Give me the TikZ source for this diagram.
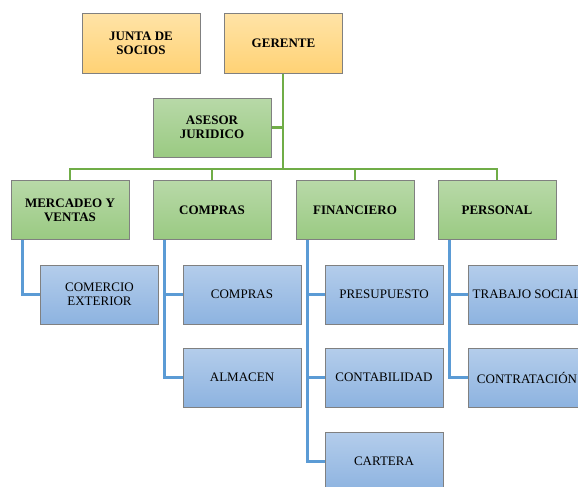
\documentclass[tikz,border=0pt]{standalone}
\usepackage{fontspec}
\setmainfont{Liberation Serif}
\definecolor{gline}{HTML}{70AD47}
\definecolor{bline}{HTML}{5B9BD5}
\definecolor{otop}{HTML}{FFE3A6}
\definecolor{obot}{HTML}{FFD275}
\definecolor{gtop}{HTML}{B8D9A8}
\definecolor{gbot}{HTML}{9ACA82}
\definecolor{btop}{HTML}{B4CDEB}
\definecolor{bbot}{HTML}{8DB3E0}
\definecolor{bord}{HTML}{808080}
\tikzset{
  box/.style={draw=bord, line width=1pt, minimum width=118pt, minimum height=59pt,
    align=center, inner sep=0pt, font=\fontsize{13}{14}\selectfont},
  obox/.style={box, top color=otop, bottom color=obot, font=\fontsize{13}{14}\selectfont\bfseries},
  gbox/.style={box, top color=gtop, bottom color=gbot, font=\fontsize{13}{14}\selectfont\bfseries},
  bbox/.style={box, top color=btop, bottom color=bbot},
  gconn/.style={draw=gline, line width=2.2pt},
  bconn/.style={draw=bline, line width=2.2pt},
}
\begin{document}
\begin{tikzpicture}[x=1pt,y=-1pt]
\useasboundingbox (0,0) rectangle (578,487);
\clip (0,0) rectangle (578,487);
% level 0
\node[obox] (junta) at (141,43.5) {JUNTA DE\\SOCIOS};
\node[obox] (gerente) at (283.5,43.5) {GERENTE};
\node[gbox] (asesor) at (212,127.5) {ASESOR\\JURIDICO};
% level 2
\node[gbox] (mercadeo) at (70,210) {MERCADEO Y\\VENTAS};
\node[gbox] (compras) at (212,210) {COMPRAS};
\node[gbox] (financiero) at (355,210) {FINANCIERO};
\node[gbox] (personal) at (497,210) {PERSONAL};
% level 3
\node[bbox] (comercio) at (99.5,294.5) {COMERCIO\\EXTERIOR};
\node[bbox] (compras2) at (242,294.5) {COMPRAS};
\node[bbox] (almacen) at (242,377.5) {ALMACEN};
\node[bbox] (presupuesto) at (384,294.5) {PRESUPUESTO};
\node[bbox] (contabilidad) at (384,377.5) {CONTABILIDAD};
\node[bbox] (cartera) at (384,461.5) {CARTERA};
\node[bbox] (trabajo) at (527,294.5) {TRABAJO SOCIAL};
\node[bbox] (contratacion) at (527,377.5) {CONTRATACIÓN};
% green connectors
\coordinate (bus) at (283,169);
\draw[gconn] (gerente.south -| bus) -- (bus);
\draw[gconn] (asesor.east) -- (asesor.east -| bus);
\draw[gconn] (mercadeo.north) |- (bus) -| (personal.north);
\draw[gconn] (compras.north) -- (compras.north |- bus);
\draw[gconn] (financiero.north) -- (financiero.north |- bus);
% blue connectors
\draw[bconn] ([xshift=12pt]mercadeo.south west) |- (comercio.west);
\draw[bconn] ([xshift=12pt]compras.south west) |- (almacen.west);
\draw[bconn] ([xshift=12pt]compras.south west |- compras2.west) -- (compras2.west);
\draw[bconn] ([xshift=12pt]financiero.south west) |- (cartera.west);
\draw[bconn] ([xshift=12pt]financiero.south west |- presupuesto.west) -- (presupuesto.west);
\draw[bconn] ([xshift=12pt]financiero.south west |- contabilidad.west) -- (contabilidad.west);
\draw[bconn] ([xshift=12pt]personal.south west) |- (contratacion.west);
\draw[bconn] ([xshift=12pt]personal.south west |- trabajo.west) -- (trabajo.west);
\end{tikzpicture}
\end{document}
